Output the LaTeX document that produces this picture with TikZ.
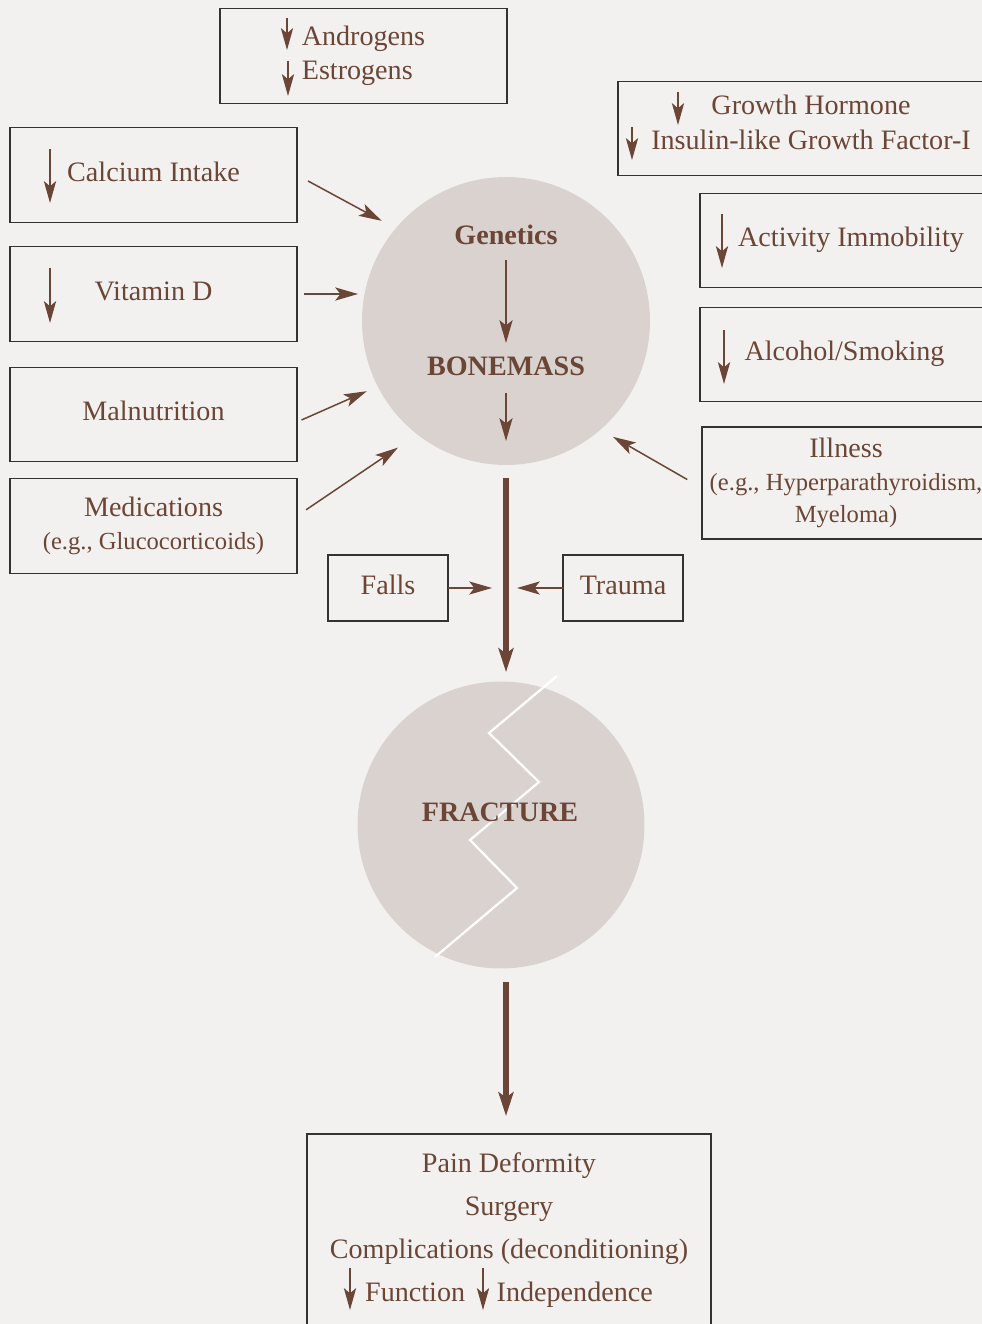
\documentclass[tikz,border=0pt]{standalone}
\usepackage{fontspec}
\setmainfont{Liberation Serif}
\usetikzlibrary{shapes,arrows.meta}
\definecolor{bgPaper}{RGB}{243,241,239}
\definecolor{boneGrey}{RGB}{217,210,207}
\definecolor{boneBrown}{RGB}{107,69,53}
\definecolor{boxLine}{RGB}{51,51,51}

\begin{document}
\begin{tikzpicture}[x=0.02cm, y=-0.02cm]%
  \tikzset{thin arrow/.style={draw,-{Stealth[length=13pt,width=7.5pt,inset=3pt]},line width=0.85pt,boneBrown}}
  \tikzset{big arrow/.style={draw,-{Stealth[length=13.5pt,width=8.5pt,inset=3pt]},line width=2.9pt,boneBrown}}
  \tikzset{low arrow/.style={draw,-{Stealth[length=12.5pt,width=7pt,inset=3pt]},line width=0.75pt,boneBrown}}
  \tikzset{factor/.style={draw=boxLine, line width=0.7pt, rectangle, minimum width=5.74cm, minimum height=1.89cm, align=center}}
  \tikzset{raised/.style={text height=11.5pt, text depth=4.5pt}}
  \tikzset{heavy/.style={font=\fontsize{16}{19}\selectfont\bfseries}}
  \tikzstyle{every node}=[text=boneBrown, inner sep=0pt, outer sep=0pt, font=\fontsize{16}{19.5}\selectfont]

  \useasboundingbox (0,0) rectangle (982,1324);
  \clip (0,0) rectangle (982,1324);
  \fill[bgPaper] (0,0) rectangle (982,1324);

  % bone mass
  \node[circle, fill=boneGrey, minimum size=5.76cm] (bone) at (506,321) {};
  \node[heavy] (genet) at (506,235) {Genetics};
  \node[heavy] (bmass) at (506,366) {BONEMASS};
  \coordinate (bdown) at (506,441);

  % fracture
  \node[circle, fill=boneGrey, minimum size=5.74cm] (frac) at (501,825) {};
  \draw[white, line width=1.3pt] (557,676) -- (489,733) -- (539,782) -- (470,840) -- (517,888) -- (435,957);
  \node[heavy] (fractxt) at (500,812) {FRACTURE};

  % risk factors
  \node[factor, align=left] (andro) at (363.5,56) {Androgens\\Estrogens};
  \node[factor, minimum width=7.72cm, text depth=7pt] (growth) at (811,128.5) {Growth Hormone\\Insulin-like Growth Factor-I};
  \node[factor, raised] (calc) at (153.5,175) {Calcium Intake};
  \node[factor, raised] (vitd) at (153.5,294) {Vitamin D};
  \node[factor, raised] (maln) at (153.5,414.5) {Malnutrition};
  \node[factor, font=\fontsize{16}{19}\selectfont] (medic) at (153.5,526) {Medications\\{\fontsize{14}{19}\selectfont(e.g., Glucocorticoids)}};
  \node[factor, raised, minimum width=6.04cm] (activ) at (851,240.5) {Activity Immobility};
  \node[factor, raised, minimum width=5.78cm] (alcoh) at (844.5,354.5) {Alcohol/Smoking};
  \node[factor, minimum width=5.76cm, minimum height=2.24cm, font=\fontsize{14}{18.5}\selectfont] (illn) at (846,483) {{\fontsize{16}{18.5}\selectfont Illness}\\(e.g., Hyperparathyroidism,\\Myeloma)};
  \node[factor, raised, minimum width=2.4cm, minimum height=1.32cm] (falls) at (388,588) {Falls};
  \node[factor, raised, minimum width=2.4cm, minimum height=1.32cm] (trauma) at (623,588) {Trauma};

  % outcome
  \node[factor, minimum width=8.08cm, minimum height=0pt, anchor=north, inner ysep=10.5pt, font=\fontsize{16}{24.5}\selectfont] (outc) at (509,1134) {Pain Deformity\\Surgery\\Complications (deconditioning)\\Function\hspace{18pt}Independence\\ \mbox{}};

  % decrease marks
  \draw[low arrow] (287,18) -- (287,50);
  \draw[low arrow] (288,61) -- (288,96);
  \draw[low arrow] (678,92) -- (678,125);
  \draw[low arrow] (632,127) -- (632,160);
  \draw[low arrow] (50,149) -- (50,203);
  \draw[low arrow] (50,268) -- (50,323);
  \draw[low arrow] (722,214) -- (722,268);
  \draw[low arrow] (724,330) -- (724,384);
  \draw[low arrow] (350,1268) -- (350,1310);
  \draw[low arrow] (483,1268) -- (483,1310);

  \path[thin arrow, shorten <=0.25cm, shorten >=0.32cm] (calc.east) -- (bone.140);
  \path[thin arrow, shorten <=0.14cm, shorten >=0.08cm] (vitd.east) -- (vitd.east -| bone.west);
  \path[thin arrow, shorten <=0.1cm, shorten >=0.24cm] (maln.-3) -- (bone.207);
  \path[thin arrow, shorten <=0.22cm, shorten >=0.47cm] (medic.4) -- (bone.232);
  \path[thin arrow, shorten <=0.34cm, shorten >=0.29cm] (illn.182) -- (bone.311);
  \path[thin arrow, shorten <=0.5cm, shorten >=0.46cm] (genet.center) -- (bmass.center);
  \path[thin arrow, shorten <=0.54cm] (bmass.center) -- (bdown);
  \path[big arrow, shorten <=0.26cm, shorten >=0.19cm] (bone.south) -- (bone.south |- frac.north);
  \path[big arrow, shorten <=0.27cm, shorten >=0.36cm] (frac.south -| bone.south) -- (outc.north -| bone.south);
  \path[thin arrow, shorten >=0.28cm] (falls.east) -- (falls.east -| bone.south);
  \path[thin arrow, shorten >=0.22cm] (trauma.west) -- (trauma.west -| bone.south);
\end{tikzpicture}
\end{document}
